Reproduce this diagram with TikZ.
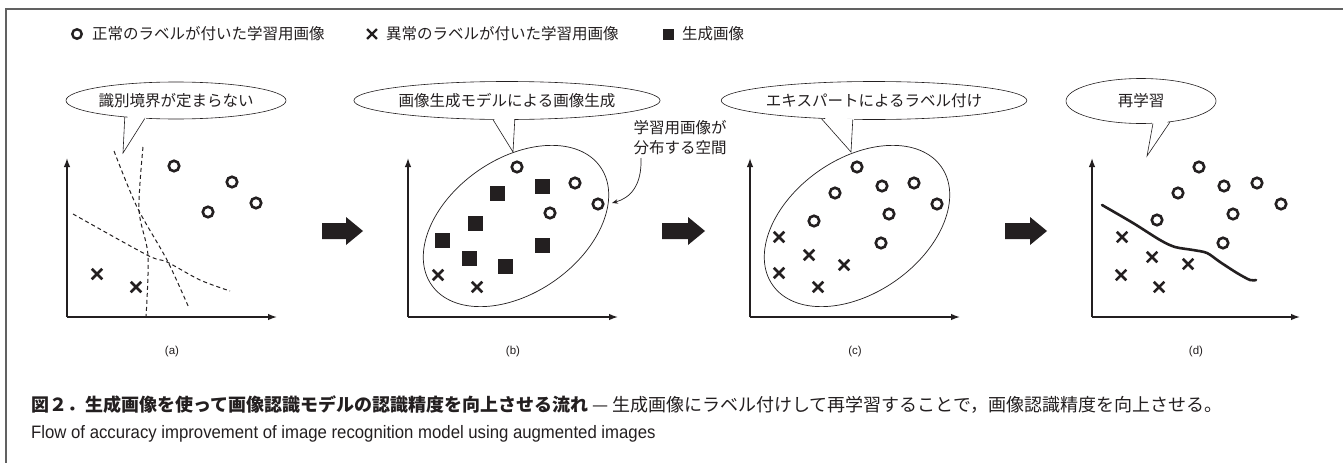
\documentclass[tikz,border=0pt]{standalone}
\usepackage{fontspec}
\setmainfont{Liberation Sans}
\newfontfamily\jp{Noto Sans CJK JP}
\newfontfamily\narrowfont[FakeStretch=0.93]{Liberation Sans}
\usetikzlibrary{shapes.geometric,shapes.misc,arrows.meta,calc}
\definecolor{ink}{HTML}{231F20}
\begin{document}
\begin{tikzpicture}[x=1pt,y=-1pt,
  frameline/.style={draw=black!62, line width=1.3pt},
  jptext/.style={font=\jp\fontsize{15.5}{19}\selectfont, text=ink, inner sep=0pt},
  bubble/.style={ellipse, draw=ink, line width=0.6pt, fill=white, inner sep=0pt, jptext},
  bline/.style={draw=ink, line width=0.6pt, line join=miter},
  axisline/.style={draw=ink, line width=1.4pt, -{Latex[length=9pt,width=6.5pt]}},
  omark/.style={circle, draw=ink, line width=2.6pt, minimum size=10.5pt, inner sep=0pt},
  xmark/.style={cross out, draw=ink, line width=2.5pt, minimum size=8pt, inner sep=0pt},
  smark/.style={fill=ink, minimum size=15pt, inner sep=0pt},
  bound/.style={draw=ink, line width=1pt, dash pattern=on 4pt off 3pt},
  region/.style={ellipse, draw=ink, line width=0.7pt, minimum width=206pt, minimum height=134pt, inner sep=0pt, rotate=35},
  bigarrow/.style={fill=ink},
  panellabel/.style={font=\fontsize{11.5}{13}\selectfont, text=ink, inner sep=0pt}
]
\useasboundingbox (0,0) rectangle (1343,463);
\fill[white] (0,0) rectangle (1343,463);
% frame
\draw[frameline] (5,9) -- (1343,9);
\draw[frameline] (6,9) -- (6,463);

% legend
\node[omark, minimum size=9.5pt, line width=2.4pt] (lo) at (77,34) {};
\node[jptext, anchor=west] (lot) at (92,34) {正常のラベルが付いた学習用画像};
\node[xmark, minimum size=7.5pt, line width=2.3pt] (lx) at (372,34) {};
\node[jptext, anchor=west] (lxt) at (386,34) {異常のラベルが付いた学習用画像};
\node[smark, minimum size=11pt] (ls) at (668,34) {};
\node[jptext, anchor=west] (lst) at (682,34) {生成画像};

% ---------- panel (a)
\coordinate (oa) at (67,317);
\draw[axisline] (oa) -- (67,158);
\draw[axisline] (oa) -- (277,317);
\node[bubble, minimum width=220pt, minimum height=37pt] (ba) at (176,100.5) {識別境界が定まらない};
\coordinate (ta) at (123,153);
\fill[white] ($(ba.center)!0.94!(ba.198)$) -- (ta) -- ($(ba.center)!0.94!(ba.210)$) -- cycle;
\draw[bline] (ba.198) -- (ta) -- (ba.210);
\draw[bound] plot[smooth] coordinates {(114,151) (137,207) (167,260) (189,308)};
\draw[bound] plot[smooth] coordinates {(143,147) (139,210) (148,255) (146,317)};
\draw[bound] plot[smooth] coordinates {(73,214) (147,255) (167,262) (200,280) (230,291)};
\node[omark] (a-o1) at (174,166) {};
\node[omark] (a-o2) at (232,182) {};
\node[omark] (a-o3) at (256,203) {};
\node[omark] (a-o4) at (208,212) {};
\node[xmark] (a-x1) at (97,274) {};
\node[xmark] (a-x2) at (136,287) {};
\node[panellabel] (la) at (172,352) {(a)};

% arrow 1
\fill[bigarrow] (322,223) -- (346,223) -- (346,217) -- (363,231) -- (346,245) -- (346,239) -- (322,239) -- cycle;

% ---------- panel (b)
\coordinate (ob) at (408,317);
\draw[axisline] (ob) -- (408,158);
\draw[axisline] (ob) -- (618,317);
\node[region] (eb) at (516,226) {};
\node[bubble, minimum width=275pt, minimum height=38pt] (bb) at (507,100.5) {画像生成モデルによる画像生成};
\coordinate (tb) at (513,152);
\fill[white] ($(bb.center)!0.94!(bb.234)$) -- (tb) -- ($(bb.center)!0.94!(bb.292)$) -- cycle;
\draw[bline] (bb.234) -- (tb) -- (bb.292);
\node[omark] (b-o1) at (517,167) {};
\node[omark] (b-o2) at (575,183) {};
\node[omark] (b-o3) at (598,204) {};
\node[omark] (b-o4) at (550,213) {};
\node[smark] (b-s1) at (497,193) {};
\node[smark] (b-s2) at (542,186) {};
\node[smark] (b-s3) at (475,223) {};
\node[smark] (b-s4) at (442,240) {};
\node[smark] (b-s5) at (469,258) {};
\node[smark] (b-s6) at (505,266) {};
\node[smark] (b-s7) at (542,245) {};
\node[xmark] (b-x1) at (438,275) {};
\node[xmark] (b-x2) at (477,287) {};
\node[jptext, align=left, font=\jp\fontsize{15.5}{19.5}\selectfont] (ann) at (680,137.5) {学習用画像が\\分布する空間};
\coordinate (annend) at (612,203);
\draw[draw=ink, line width=0.7pt, -{Stealth[length=6pt,width=4.5pt]}] (641,158) .. controls (642,186) and (630,198) .. (annend);
\node[panellabel] (lb) at (513,352) {(b)};

% arrow 2
\fill[bigarrow] (662,223) -- (688,223) -- (688,217) -- (705,231) -- (688,245) -- (688,239) -- (662,239) -- cycle;

% ---------- panel (c)
\coordinate (oc) at (750,317);
\draw[axisline] (oc) -- (750,158);
\draw[axisline] (oc) -- (960,317);
\node[region] (ec) at (857,226) {};
\node[bubble, minimum width=268pt, minimum height=38pt] (bc) at (874,100.5) {エキスパートによるラベル付け};
\coordinate (tc) at (851,152);
\fill[white] ($(bc.center)!0.94!(bc.199)$) -- (tc) -- ($(bc.center)!0.94!(bc.222)$) -- cycle;
\draw[bline] (bc.199) -- (tc) -- (bc.222);
\node[omark] (c-o1) at (857,167) {};
\node[omark] (c-o2) at (835,193) {};
\node[omark] (c-o3) at (882,186) {};
\node[omark] (c-o4) at (914,183) {};
\node[omark] (c-o5) at (937,204) {};
\node[omark] (c-o6) at (889,214) {};
\node[omark] (c-o7) at (814,221) {};
\node[omark] (c-o8) at (881,243) {};
\node[xmark] (c-x1) at (779,237) {};
\node[xmark] (c-x2) at (809,255) {};
\node[xmark] (c-x3) at (844,265) {};
\node[xmark] (c-x4) at (779,273) {};
\node[xmark] (c-x5) at (818,287) {};
\node[panellabel] (lc) at (855,352) {(c)};

% arrow 3
\fill[bigarrow] (1005,223) -- (1030,223) -- (1030,217) -- (1047,231) -- (1030,245) -- (1030,239) -- (1005,239) -- cycle;

% ---------- panel (d)
\coordinate (od) at (1092,317);
\draw[axisline] (od) -- (1092,158);
\draw[axisline] (od) -- (1300,317);
\node[bubble, minimum width=150pt, minimum height=45pt] (bd) at (1141,101) {再学習};
\coordinate (td) at (1147,156);
\fill[white] ($(bd.center)!0.94!(bd.298)$) -- (td) -- ($(bd.center)!0.94!(bd.324)$) -- cycle;
\draw[bline] (bd.298) -- (td) -- (bd.324);
\draw[draw=ink, line width=2.6pt, line cap=round] plot[smooth] coordinates {(1102,205) (1133,223) (1160,240) (1175,247) (1193,250) (1207,253) (1220,262) (1237,273) (1250,280) (1256,280)};
\node[omark] (d-o1) at (1199,167) {};
\node[omark] (d-o2) at (1178,193) {};
\node[omark] (d-o3) at (1224,186) {};
\node[omark] (d-o4) at (1257,183) {};
\node[omark] (d-o5) at (1281,204) {};
\node[omark] (d-o6) at (1233,214) {};
\node[omark] (d-o7) at (1157,220) {};
\node[omark] (d-o8) at (1223,243) {};
\node[xmark] (d-x1) at (1122,237) {};
\node[xmark] (d-x2) at (1152,257) {};
\node[xmark] (d-x3) at (1188,264) {};
\node[xmark] (d-x4) at (1121,275) {};
\node[xmark] (d-x5) at (1159,287) {};
\node[panellabel] (ld) at (1196,352) {(d)};

% caption
\node[anchor=base west, inner sep=0pt, text=ink, font=\jp\fontsize{18}{21}\selectfont] (cap) at (31,411)
  {{\bfseries 図２．生成画像を使って画像認識モデルの認識精度を向上させる流れ}\ — 生成画像にラベル付けして再学習することで，画像認識精度を向上させる。};
\node[anchor=base west, inner sep=0pt, text=ink, font=\narrowfont\fontsize{18}{21}\selectfont] (capen) at (31,438)
  {Flow of accuracy improvement of image recognition model using augmented images};
\end{tikzpicture}
\end{document}
